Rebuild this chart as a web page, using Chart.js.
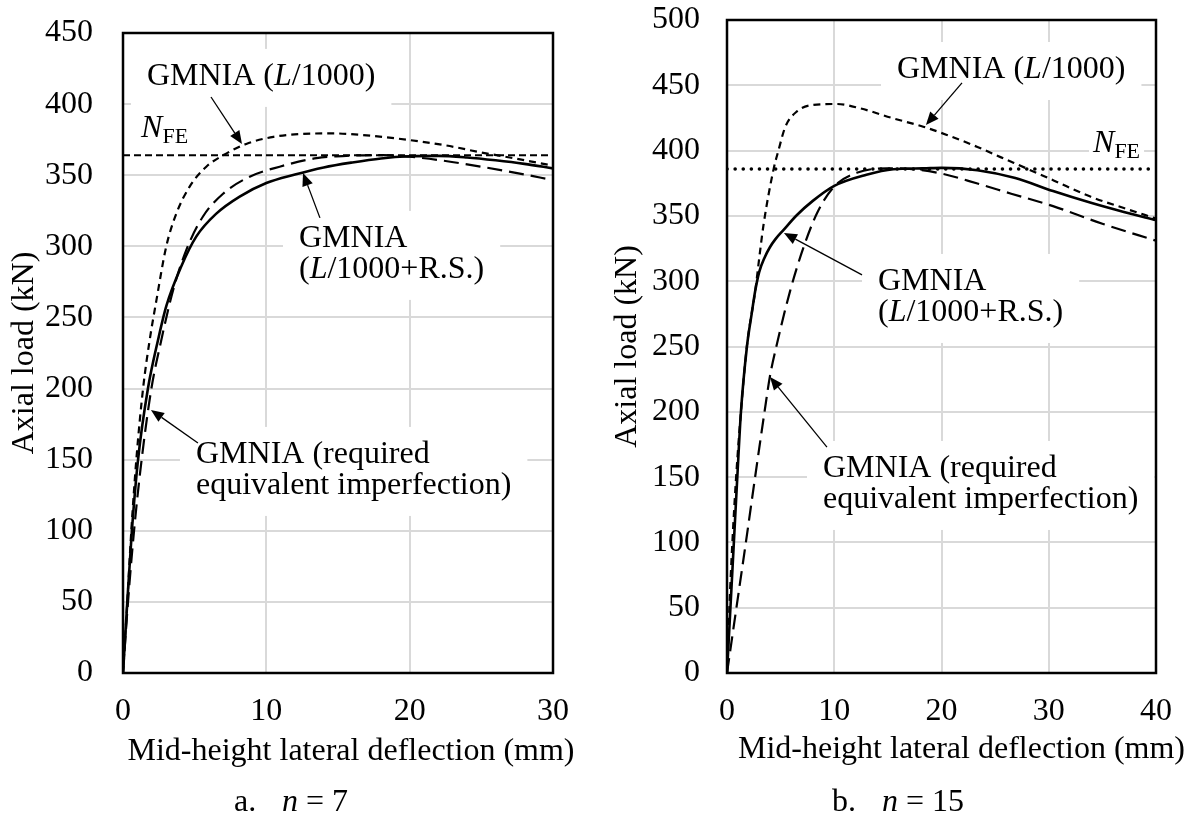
<!DOCTYPE html>
<html>
<head>
<meta charset="utf-8">
<script src="https://cdn.jsdelivr.net/npm/chart.js@4.4.1/dist/chart.umd.min.js"></script>
<style>
html,body{margin:0;padding:0;background:#fff;}
#wrap{position:relative;width:1192px;height:818px;}
.pane{position:absolute;top:0;width:596px;height:818px;}
</style>
</head>
<body>
<div id="wrap">
  <div class="pane" style="left:0"><canvas id="c7" width="596" height="818"></canvas></div>
  <div class="pane" style="left:596px"><canvas id="c15" width="596" height="818"></canvas></div>
</div>
<script>
const serif = '"Liberation Serif", "Times New Roman", serif';

// ---- a. n = 7 ----
const n7_xTicks = [0, 10, 20, 30];
const n7_yTicks = [0, 50, 100, 150, 200, 250, 300, 350, 400, 450];
const n7_L1000_x = [0, 0.3, 0.58, 0.93, 1.4, 1.86, 2.33, 3.02, 3.72, 4.65, 5.81, 6.98, 8.6, 10.5, 12.5, 14.7, 17, 20, 22.5, 25, 27.5, 30];
const n7_L1000_y = [0, 50, 100, 150, 200, 234, 262, 300, 323, 342, 356, 364, 372, 377, 379, 379.4, 378, 374.7, 371, 366, 361.5, 356.7];
const n7_RS_x = [0, 0.3, 0.62, 1.05, 1.74, 2.44, 3.02, 4.07, 5.12, 6.51, 8.14, 10, 12, 14, 16, 18, 20, 22, 24, 26, 28, 30];
const n7_RS_y = [0, 50, 100, 150, 200, 234, 258, 286, 307, 323, 335, 344.5, 350.5, 355.5, 359, 361.8, 363.3, 363.6, 362.5, 360.5, 358, 354.8];
const n7_req_x = [0, 0.35, 0.77, 1.3, 1.98, 2.67, 3.49, 4.42, 5.58, 6.98, 8.84, 10.93, 13.5, 16, 18.1, 20, 22.5, 25, 27.5, 30];
const n7_req_y = [0, 50, 100, 150, 200, 234, 269, 297.5, 321, 337, 349, 356, 362, 363.8, 364.2, 363, 360, 356, 351.5, 346.6];
const n7_NFE_x = [0, 30];
const n7_NFE_y = [364, 364];

// ---- b. n = 15 ----
const n15_xTicks = [0, 10, 20, 30, 40];
const n15_yTicks = [0, 50, 100, 150, 200, 250, 300, 350, 400, 450, 500];
const n15_L1000_x = [0, 0.22, 0.5, 0.85, 1.3, 1.85, 2.64, 3.1, 3.42, 4.35, 4.81, 5.43, 6.52, 8.07, 10.25, 12.4, 15.5, 18.3, 20.5, 23.35, 25.5, 27.94, 30.5, 33.93, 37, 40];
const n15_L1000_y = [0, 50, 100, 150, 200, 250, 293, 324, 344, 386, 400.5, 418, 430, 435, 435.7, 432.4, 424.7, 418.3, 412, 402.8, 395, 386.3, 377, 364.6, 356, 348];
const n15_RS_x = [0, 0.32, 0.64, 0.96, 1.3, 1.86, 2.3, 2.64, 3, 3.5, 4, 4.5, 5.3, 6.5, 8, 10, 13, 15.5, 18.3, 20, 23.35, 26.88, 30.4, 33.93, 37, 40];
const n15_RS_y = [0, 50, 100, 150, 200, 250, 275, 293, 307, 318, 326, 332, 339.5, 350.5, 361.5, 373, 381.5, 385.7, 386.4, 386.8, 385, 379, 369, 360, 353, 346.8];
const n15_req_x = [0, 0.88, 1.76, 2.62, 3.5, 4.0, 4.6, 5.9, 7.14, 8.39, 9.94, 12.1, 14.9, 17, 20, 23.35, 26.5, 30.4, 35, 40];
const n15_req_y = [0, 50, 100, 150, 200, 227, 250, 293, 326, 352, 372, 383, 386.4, 386, 382.4, 374.8, 367, 357.5, 344, 331];
const n15_NFE_x = [0, 40];
const n15_NFE_y = [386, 386];

function pts(xs, ys) { return xs.map((x, i) => ({x: x, y: ys[i]})); }

function fontFor(s, size) {
  if (s === 2) return Math.round(size * 0.69) + 'px ' + serif;
  return (s === 1 ? 'italic ' : '') + size + 'px ' + serif;
}
function richWidth(ctx, segs, size) {
  let w = 0;
  for (const [t, s] of segs) { ctx.font = fontFor(s, size); w += ctx.measureText(t).width; }
  return w;
}
function drawRich(ctx, segs, x, y, size) {
  for (const [t, s] of segs) {
    ctx.font = fontFor(s, size);
    ctx.fillText(t, x, s === 2 ? y + 6 : y);
    x += ctx.measureText(t).width;
  }
}
function arrow(ctx, x1, y1, x2, y2) {
  const a = Math.atan2(y2 - y1, x2 - x1), len = 13, hw = 5.5;
  const bx = x2 - len * Math.cos(a), by = y2 - len * Math.sin(a);
  ctx.strokeStyle = '#000'; ctx.lineWidth = 1.3; ctx.setLineDash([]);
  ctx.beginPath(); ctx.moveTo(x1, y1); ctx.lineTo(bx, by); ctx.stroke();
  ctx.beginPath();
  ctx.moveTo(x2, y2);
  ctx.lineTo(bx + hw * Math.sin(a), by - hw * Math.cos(a));
  ctx.lineTo(bx - hw * Math.sin(a), by + hw * Math.cos(a));
  ctx.closePath(); ctx.fillStyle = '#000'; ctx.fill();
}

const notes = {
  id: 'notes',
  beforeDatasetsDraw(chart, args, o) {
    const ctx = chart.ctx, xs = chart.scales.x, ys = chart.scales.y;
    ctx.save();
    ctx.fillStyle = '#fff';
    for (const n of o.labels) {
      const x = xs.getPixelForValue(n.x), y = ys.getPixelForValue(n.y);
      let w = 0;
      for (const l of n.lines) w = Math.max(w, richWidth(ctx, l, 32));
      const pad = n.pad || 16;
      ctx.fillRect(x - pad, y - 36, w + 2 * pad, 31 * (n.lines.length - 1) + 58);
    }
    ctx.restore();
  },
  afterDraw(chart, args, o) {
    const ctx = chart.ctx, xs = chart.scales.x, ys = chart.scales.y, ca = chart.chartArea;
    ctx.save();
    // plot frame
    ctx.strokeStyle = '#000'; ctx.lineWidth = 2.5; ctx.setLineDash([]);
    ctx.strokeRect(ca.left, ca.top, ca.right - ca.left, ca.bottom - ca.top);
    // arrows
    for (const a of o.arrows) {
      arrow(ctx, xs.getPixelForValue(a[0]), ys.getPixelForValue(a[1]), xs.getPixelForValue(a[2]), ys.getPixelForValue(a[3]));
    }
    // text labels
    ctx.fillStyle = '#000'; ctx.textBaseline = 'alphabetic'; ctx.textAlign = 'left';
    for (const n of o.labels) {
      const x = xs.getPixelForValue(n.x), y = ys.getPixelForValue(n.y);
      n.lines.forEach((l, i) => drawRich(ctx, l, x, y + 31 * i, 32));
    }
    // axis titles
    ctx.font = '32px ' + serif;
    ctx.textAlign = 'center';
    ctx.fillText('Mid-height lateral deflection (mm)', (ca.left + ca.right) / 2 + o.xTitleDx, o.xTitleY);
    ctx.save();
    ctx.translate(o.yTitleX, (ca.top + ca.bottom) / 2);
    ctx.rotate(-Math.PI / 2);
    ctx.textBaseline = 'middle';
    ctx.fillText('Axial load (kN)', 0, 0);
    ctx.restore();
    // caption
    ctx.textAlign = 'left';
    drawRich(ctx, [[o.capLetter, 0]], ca.left + o.capDx[0], 811, 32);
    drawRich(ctx, [['n', 1], [' = ' + o.capN, 0]], ca.left + o.capDx[1], 811, 32);
    ctx.restore();
  }
};

function line(label, data, dash, width, extra) {
  return Object.assign({
    label: label, data: data, showLine: true, pointRadius: 0,
    borderColor: '#000', backgroundColor: '#000',
    borderDash: dash, borderWidth: width, fill: false,
    cubicInterpolationMode: 'monotone'
  }, extra || {});
}

function build(id, cfg) {
  return new Chart(document.getElementById(id), {
    type: 'scatter',
    data: {
      datasets: [
        line('NFE', pts(cfg.nfeX, cfg.nfeY), cfg.nfeDash, cfg.nfeWidth, {borderCapStyle: cfg.nfeCap, cubicInterpolationMode: 'default', tension: 0}),
        line('GMNIA (required equivalent imperfection)', pts(cfg.reqX, cfg.reqY), [15, 7], 2.2),
        line('GMNIA (L/1000)', pts(cfg.lX, cfg.lY), [7, 5], 2.2),
        line('GMNIA (L/1000+R.S.)', pts(cfg.rsX, cfg.rsY), [], 2.6)
      ]
    },
    options: {
      responsive: false,
      devicePixelRatio: 1,
      animation: false,
      layout: {padding: cfg.pad},
      plugins: {legend: {display: false}, tooltip: {enabled: false}, notes: cfg.notes},
      scales: {
        x: {
          type: 'linear', min: cfg.xTicks[0], max: cfg.xTicks[cfg.xTicks.length - 1],
          afterBuildTicks: s => { s.ticks = cfg.xTicks.map(v => ({value: v})); },
          afterFit: s => { s.height = 60; s.paddingLeft = 0; s.paddingRight = 0; },
          grid: {color: '#d9d9d9', lineWidth: 2, drawTicks: false},
          border: {display: false},
          ticks: {color: '#000', font: {family: serif, size: 32}, padding: 19}
        },
        y: {
          type: 'linear', min: cfg.yTicks[0], max: cfg.yTicks[cfg.yTicks.length - 1],
          afterBuildTicks: s => { s.ticks = cfg.yTicks.map(v => ({value: v})); },
          afterFit: s => { s.width = cfg.yWidth; s.paddingTop = 0; s.paddingBottom = 0; },
          grid: {color: '#d9d9d9', lineWidth: 2, drawTicks: false},
          border: {display: false},
          ticks: {color: '#000', font: {family: serif, size: 32}, padding: cfg.yPad}
        }
      }
    },
    plugins: [notes]
  });
}

build('c7', {
  xTicks: n7_xTicks, yTicks: n7_yTicks,
  lX: n7_L1000_x, lY: n7_L1000_y, rsX: n7_RS_x, rsY: n7_RS_y, reqX: n7_req_x, reqY: n7_req_y,
  nfeX: n7_NFE_x, nfeY: n7_NFE_y, nfeDash: [7, 4], nfeWidth: 2, nfeCap: 'butt',
  pad: {left: 0, top: 33, right: 43, bottom: 85}, yWidth: 123, yPad: 30,
  notes: {
    xTitleDx: 13, xTitleY: 760, yTitleX: 25, capLetter: 'a.', capN: '7', capDx: [111, 159],
    labels: [
      {x: 1.67, y: 413.5, lines: [[['GMNIA (', 0], ['L', 1], ['/1000)', 0]]]},
      {x: 1.26, y: 377, pad: 4, lines: [[['N', 1], ['FE', 2]]]},
      {x: 12.28, y: 299.6, lines: [[['GMNIA', 0]], [['(', 0], ['L', 1], ['/1000+R.S.)', 0]]]},
      {x: 5.09, y: 147.7, lines: [[['GMNIA (required', 0]], [['equivalent imperfection)', 0]]]}
    ],
    arrows: [
      [6.14, 405, 8.3, 372],
      [13.74, 320, 12.56, 351.6],
      [5.23, 161.7, 1.95, 185]
    ]
  }
});

build('c15', {
  xTicks: n15_xTicks, yTicks: n15_yTicks,
  lX: n15_L1000_x, lY: n15_L1000_y, rsX: n15_RS_x, rsY: n15_RS_y, reqX: n15_req_x, reqY: n15_req_y,
  nfeX: n15_NFE_x, nfeY: n15_NFE_y, nfeDash: [0.1, 8], nfeWidth: 3.5, nfeCap: 'round',
  pad: {left: 0, top: 20, right: 36, bottom: 85}, yWidth: 131, yPad: 27,
  notes: {
    xTitleDx: 20, xTitleY: 758, yTitleX: 32, capLetter: 'b.', capN: '15', capDx: [105, 155],
    labels: [
      {x: 15.85, y: 455.6, lines: [[['GMNIA (', 0], ['L', 1], ['/1000)', 0]]]},
      {x: 34.13, y: 398.9, pad: 4, lines: [[['N', 1], ['FE', 2]]]},
      {x: 14.08, y: 293.3, lines: [[['GMNIA', 0]], [['(', 0], ['L', 1], ['/1000+R.S.)', 0]]]},
      {x: 8.95, y: 150.1, lines: [[['GMNIA (required', 0]], [['equivalent imperfection)', 0]]]}
    ],
    arrows: [
      [21.91, 451.8, 18.55, 419.6],
      [12.59, 304.8, 5.31, 336.9],
      [9.32, 173, 4.01, 226.6]
    ]
  }
});
</script>
</body>
</html>
